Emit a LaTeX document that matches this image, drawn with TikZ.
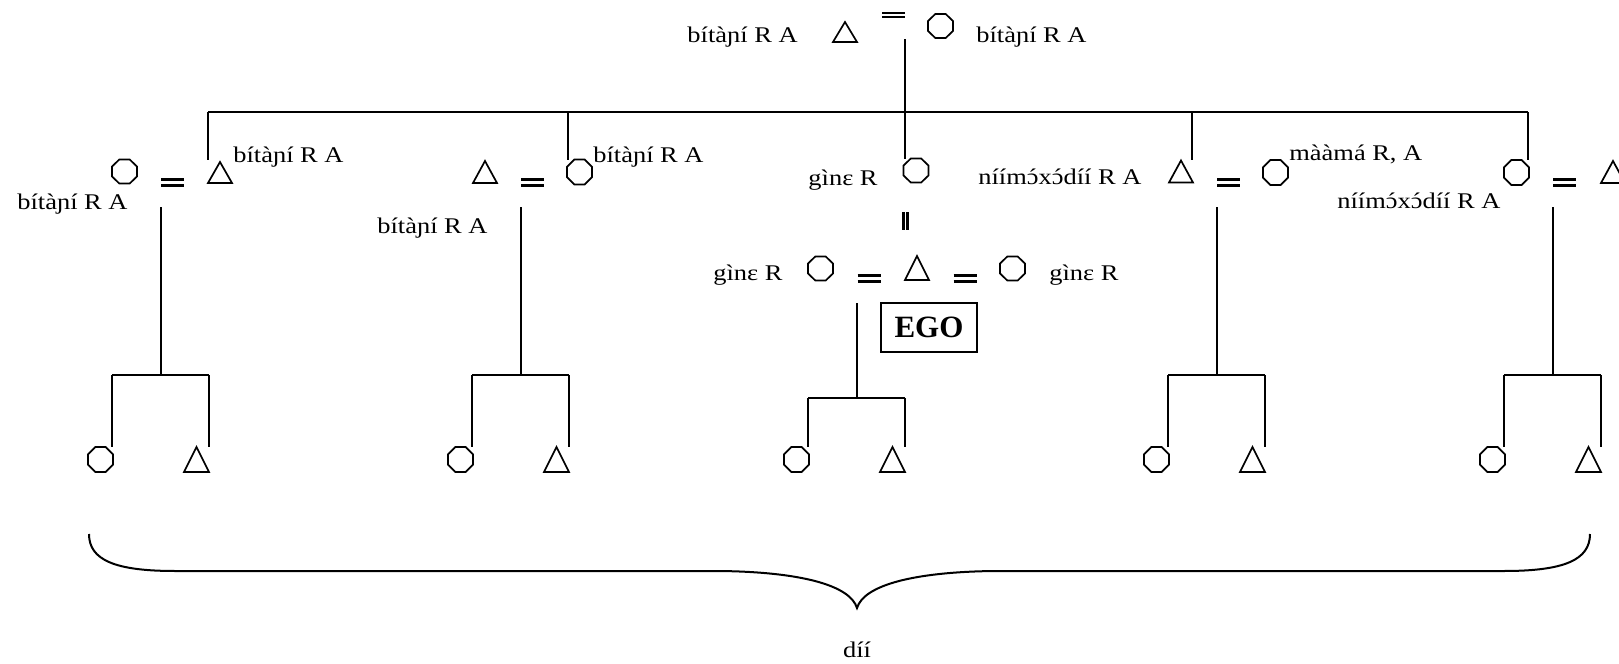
\documentclass[tikz,border=0pt]{standalone}
\usepackage{fontspec}
\setmainfont{Liberation Serif}[FakeStretch=1.18]
\newfontfamily\egofont{Liberation Serif}
\usetikzlibrary{calc}
\newcommand\oacu{\accent"00B4 ɔ}
\tikzset{
  kin/.style={line width=1pt},
  symline/.style={line width=0.85pt, line join=miter},
  sym/.style={inner sep=0pt, outer sep=0pt, minimum width=12pt, minimum height=11pt},
  tri/.style={sym},
  oct/.style={sym, minimum width=12.5pt, minimum height=12pt},
  kid/.style={sym, minimum width=12.5pt, minimum height=12.5pt},
  eqs/.style={inner sep=0pt, outer sep=0pt, minimum width=11.5pt, minimum height=4.5pt},
  lbl/.style={inner sep=0pt, font=\fontsize{11.2pt}{13pt}\selectfont},
  egobox/.style={draw, line width=0.8pt, inner sep=0pt, minimum width=48pt, minimum height=24.5pt,
    font=\egofont\bfseries\fontsize{15.5pt}{18pt}\selectfont}
}
\begin{document}
\begin{tikzpicture}[x=0.5pt,y=-0.5pt]
\useasboundingbox (0,0) rectangle (1619,664);

% ---------- top couple ----------
\node[tri, minimum height=10pt] (T0) at (845,32) {};
\node[oct] (O0) at (940.5,26) {};
\node[eqs, minimum height=3pt] (E0) at (893.5,15) {};
\node[lbl, anchor=base east] (L0) at (798,42) {bítàɲí R A};
\node[lbl, anchor=base west] (R0) at (976,42) {bítàɲí R A};
\coordinate (top) at (905,39);

% ---------- siblings ----------
\coordinate (s1) at (208,112);
\coordinate (s2) at (568,112);
\coordinate (s3) at (905,112);
\coordinate (s4) at (1192,112);
\coordinate (s5) at (1528,112);

% group 1
\node[oct] (O1) at (124.5,171.5) {};
\node[tri, minimum height=10.5pt] (T1) at (220,172.5) {};
\node[eqs] (E1) at (172.5,182.5) {};
\node[lbl, anchor=base west] (R1) at (233,162) {bítàɲí R A};
\node[lbl, anchor=base west] (L1) at (17,209) {bítàɲí R A};

% group 2
\node[tri] (T2) at (485,172) {};
\node[oct, minimum height=12.5pt] (O2) at (579.5,172) {};
\node[eqs] (E2) at (532.5,182.5) {};
\node[lbl, anchor=base west] (R2) at (593,162) {bítàɲí R A};
\node[lbl, anchor=base west] (L2) at (377,233) {bítàɲí R A};

% centre
\node[oct] (G) at (916,170.5) {};
\node[lbl, anchor=base east] (LG) at (878,185) {gìnɛ R};
\node[oct] (Ga) at (820.5,268.5) {};
\node[tri, minimum height=12pt] (Te) at (917,268) {};
\node[oct] (Gb) at (1012.5,268.5) {};
\node[eqs] (Ea) at (869,278.5) {};
\node[eqs] (Eb) at (965,278.5) {};
\node[lbl, anchor=base west] (LGa) at (713,280) {gìnɛ R};
\node[lbl, anchor=base west] (LGb) at (1049,280) {gìnɛ R};
\node[egobox] (ego) at (929,327.5) {EGO};
\coordinate (dbl1t) at (903.5,212);
\coordinate (dbl1b) at (903.5,230);
\coordinate (dbl2t) at (907.5,212);
\coordinate (dbl2b) at (907.5,230);

% group 4
\node[tri] (T4) at (1181,171.5) {};
\node[oct, minimum height=12.5pt] (O4) at (1275.5,172.5) {};
\node[eqs] (E4) at (1228.5,182.5) {};
\node[lbl, anchor=base west] (L4) at (978,184) {níím\oacu x\oacu díí R A};
\node[lbl, anchor=base west] (R4) at (1289,160) {mààmá R, A};

% group 5
\node[oct, minimum height=12.5pt] (O5) at (1516.5,172.5) {};
\node[tri] (T5) at (1613,172) {};
\node[eqs] (E5) at (1564.5,182.5) {};
\node[lbl, anchor=base west] (L5) at (1337,208) {níím\oacu x\oacu díí R A};

% ---------- kin lines ----------
\draw[kin] (top) -- (top |- G.north);
\draw[kin] (s1) -- (s5);
\draw[kin] (s1) -- (s1 |- O1.north);
\draw[kin] (s2) -- (s2 |- O2.north);
\draw[kin] (s4) -- (s4 |- O4.north);
\draw[kin] (s5) -- (s5 |- O5.north);
\draw[line width=1.1pt] (dbl1t) -- (dbl1b) (dbl2t) -- (dbl2b);

% children of the couples
\foreach \v/\n/\ya/\yb in {161/1/207/375, 521/2/207/375, 857/3/303/398, 1217/4/207/375, 1553/5/207/375} {
  \coordinate (u\n) at (\v,\ya);
  \coordinate (b\n) at (\v,\yb);
  \coordinate (bl\n) at (\v-49,\yb);
  \coordinate (br\n) at (\v+48,\yb);
  \node[kid] (co\n) at (\v-60.5,459.5) {};
  \node[kid] (ct\n) at (\v+35.5,459.5) {};
  \draw[kin] (u\n) -- (b\n);
  \draw[kin] (bl\n) -- (br\n);
  \draw[kin] (bl\n) -- (bl\n |- co\n.north);
  \draw[kin] (br\n) -- (br\n |- ct\n.north);
}

% ---------- symbols ----------
\foreach \t in {T0,T1,T2,Te,T4,T5,ct1,ct2,ct3,ct4,ct5}
  \draw[symline] (\t.north) -- (\t.south east) -- (\t.south west) -- cycle;
\foreach \o in {O0,O1,O2,G,Ga,Gb,O4,O5,co1,co2,co3,co4,co5}
  \draw[symline]
    ($(\o.north)!0.4142!(\o.north west)$) -- ($(\o.north)!0.4142!(\o.north east)$) --
    ($(\o.east)!0.4142!(\o.north east)$) -- ($(\o.east)!0.4142!(\o.south east)$) --
    ($(\o.south)!0.4142!(\o.south east)$) -- ($(\o.south)!0.4142!(\o.south west)$) --
    ($(\o.west)!0.4142!(\o.south west)$) -- ($(\o.west)!0.4142!(\o.north west)$) -- cycle;
\foreach \e in {E1,E2,Ea,Eb,E4,E5} {
  \draw[line width=1.5pt] ([yshift=-0.75pt]\e.north west) -- ([yshift=-0.75pt]\e.north east);
  \draw[line width=1.5pt] ([yshift=0.75pt]\e.south west) -- ([yshift=0.75pt]\e.south east);
}
\draw[line width=1pt] ([yshift=-0.5pt]E0.north west) -- ([yshift=-0.5pt]E0.north east);
\draw[line width=1pt] ([yshift=0.5pt]E0.south west) -- ([yshift=0.5pt]E0.south east);

% ---------- brace ----------
\coordinate (brL) at (89,534);
\coordinate (brT) at (857,608);
\coordinate (brR) at (1590,534);
\draw[kin] (brL) .. controls (89,560) and (115,571) .. (175,571) -- (720,571)
  .. controls (800,572) and (850,585) .. (brT)
  .. controls (864,585) and (914,572) .. (994,571) -- (1504,571)
  .. controls (1564,571) and (1590,560) .. (brR);
\node[lbl, anchor=base] (dii) at (857,657) {díí};
\end{tikzpicture}
\end{document}
